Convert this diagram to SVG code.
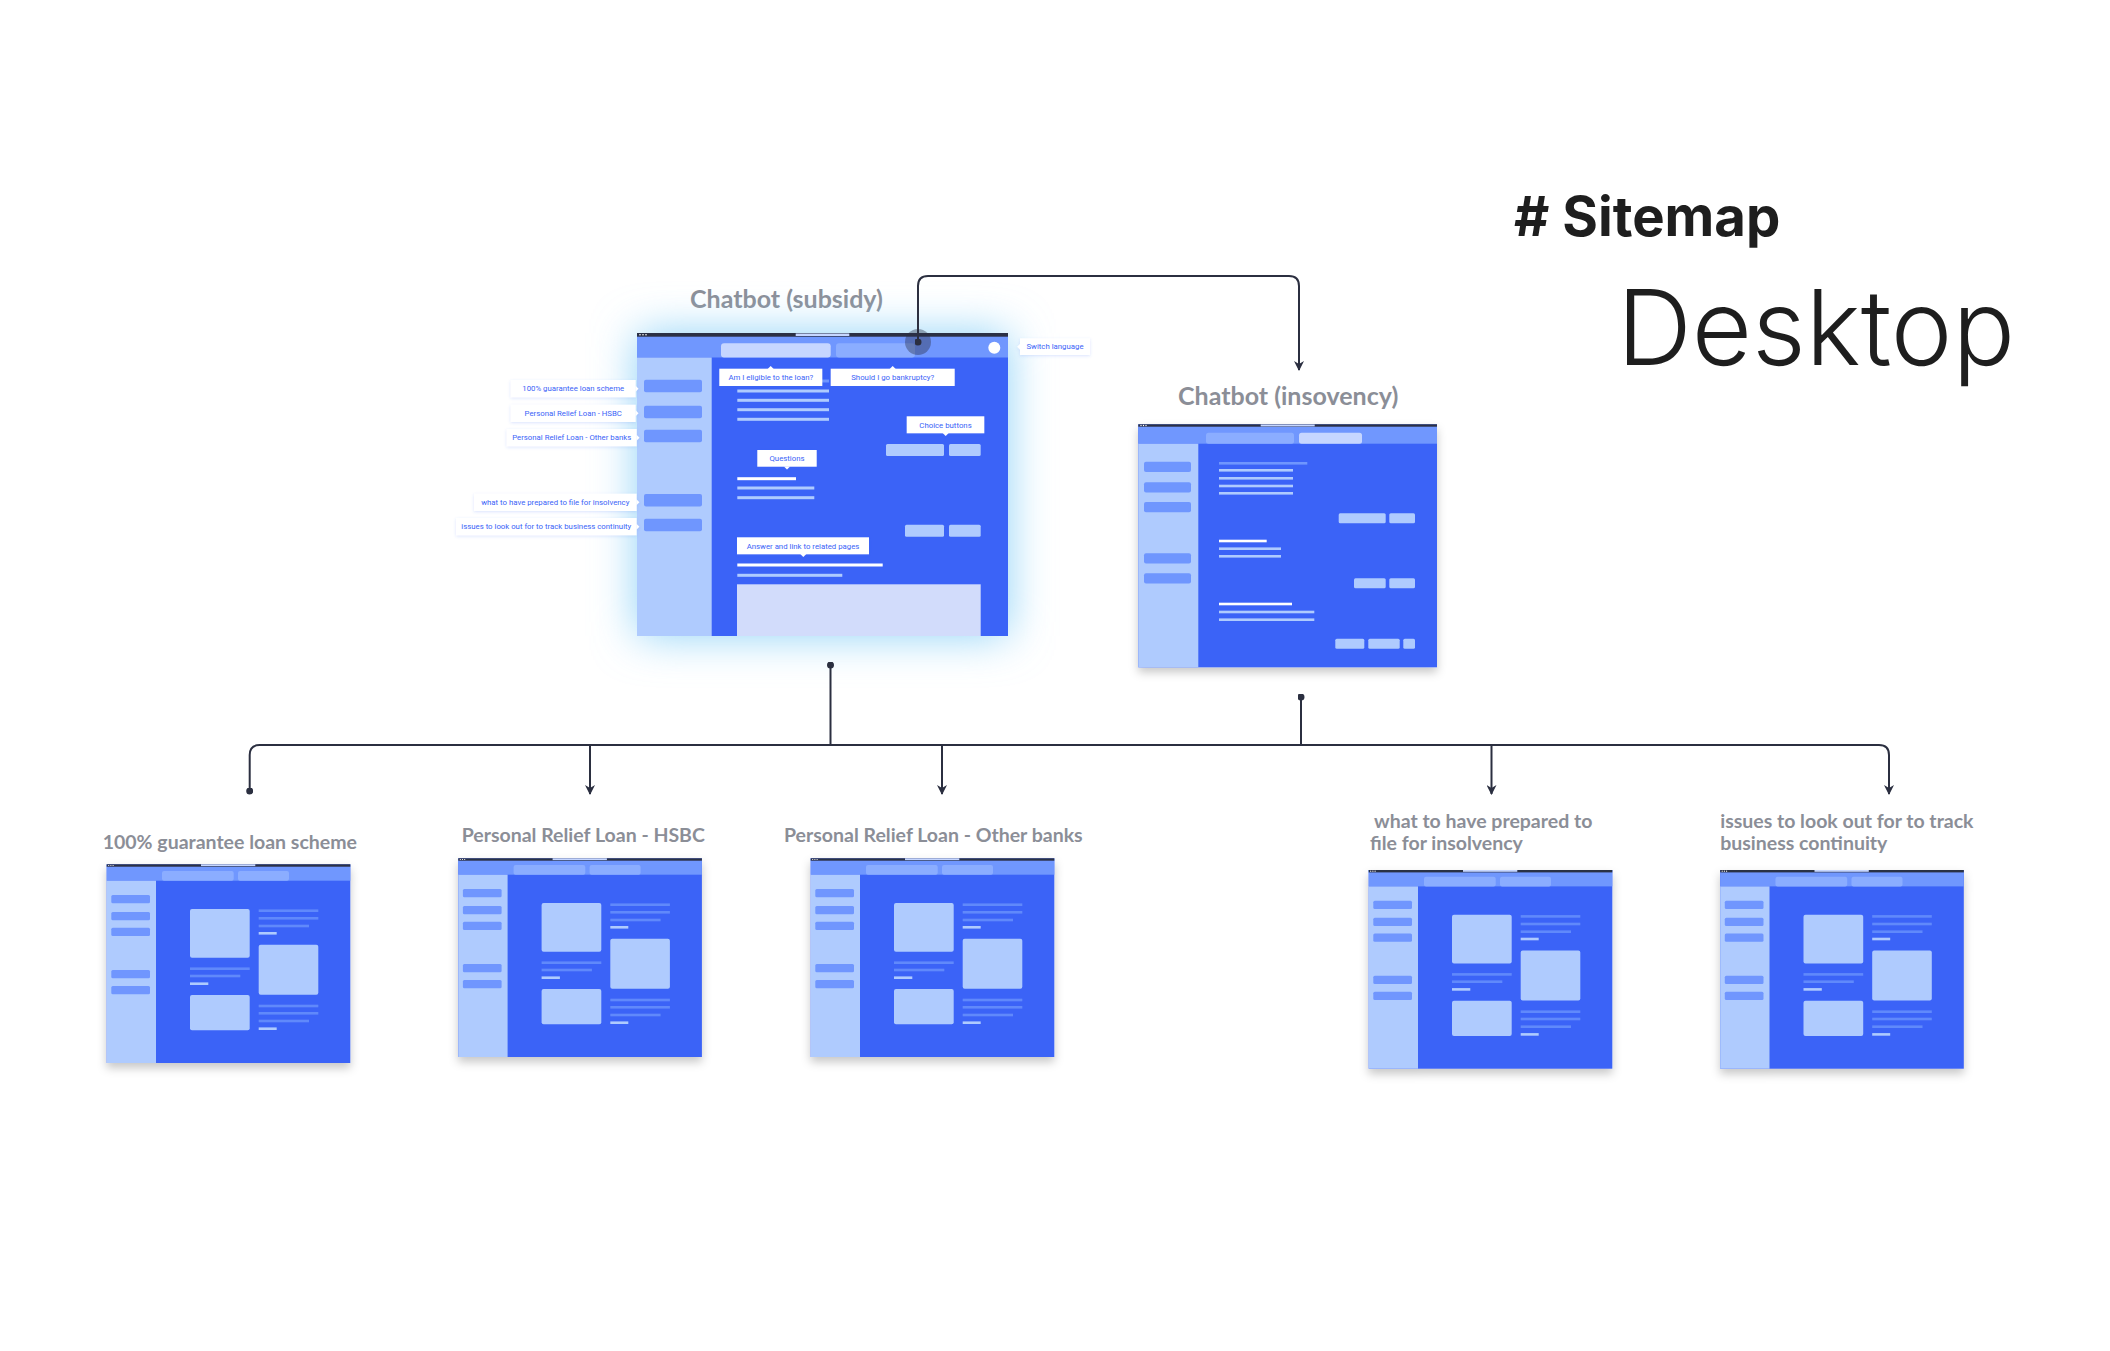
<svg xmlns="http://www.w3.org/2000/svg" xmlns:xlink="http://www.w3.org/1999/xlink" width="2110" height="1351" viewBox="0 0 2110 1351">
<style>
.ttl{font-family:Lato,"Liberation Sans",sans-serif;font-weight:700;fill:#8b8e97}
.sub{font-size:19.5px}
.lbl{font-family:Roboto,"Liberation Sans",sans-serif;font-size:7.8px;fill:#3b63f7;text-anchor:middle}
.tag{fill:#ffffff}
.main{fill:#3b63f7}
.hdr{fill:#7097fe}
.bar{fill:#2b3045}
.tabL{fill:#c6d6ff}
.tabM{fill:#8badff}
.side{fill:#afcbfe}
.sbtn{fill:#6f96fe}
.lt{fill:#afcbfe}
.mid{fill:#6189fb}
.wht{fill:#ffffff}
.con{fill:none;stroke:#2b2f40;stroke-width:2}
</style>
<defs>
<filter id="glow" x="-40%" y="-40%" width="180%" height="180%">
<feGaussianBlur stdDeviation="22"/>
</filter>
<filter id="shadow" x="-20%" y="-20%" width="140%" height="150%">
<feDropShadow dx="0" dy="5" stdDeviation="5" flood-color="#000000" flood-opacity="0.22"/>
</filter>
<filter id="tagsh" x="-20%" y="-40%" width="140%" height="180%">
<feDropShadow dx="0" dy="1" stdDeviation="1.5" flood-color="#3b63f7" flood-opacity="0.18"/>
</filter>
<marker id="arr" viewBox="0 0 10 10" refX="9" refY="5" markerWidth="10" markerHeight="10" markerUnits="userSpaceOnUse" orient="auto">
<path d="M0,0 L10,5 L0,10 L3,5 z" fill="#2b2f40"/>
</marker>
<marker id="dot" viewBox="0 0 8 8" refX="4" refY="4" markerWidth="7" markerHeight="7" markerUnits="userSpaceOnUse" orient="auto">
<circle cx="4" cy="4" r="4" fill="#2b2f40"/>
</marker>
<g id="page">
<rect width="243.6" height="198.7" class="main"/>
<rect width="243.6" height="16.4" class="hdr"/>
<rect width="243.6" height="2.4" class="bar"/>
<rect x="94.3" width="54.3" height="1.8" class="tabL"/>
<circle cx="2" cy="1.2" r="0.6" fill="#fff"/><circle cx="4.2" cy="1.2" r="0.6" fill="#fff"/><circle cx="6.4" cy="1.2" r="0.6" fill="#fff"/>
<rect x="55.3" y="6.7" width="71.7" height="9.7" rx="2" class="tabM"/>
<rect x="131.3" y="6.7" width="51" height="9.7" rx="2" class="tabM"/>
<rect y="16.4" width="49.3" height="182.3" class="side"/>
<rect x="4.6" y="30.7" width="38.7" height="8.3" rx="1.5" class="sbtn"/>
<rect x="4.6" y="47.7" width="38.7" height="8.3" rx="1.5" class="sbtn"/>
<rect x="4.6" y="63.4" width="38.7" height="8.3" rx="1.5" class="sbtn"/>
<rect x="4.6" y="105.7" width="38.7" height="8.3" rx="1.5" class="sbtn"/>
<rect x="4.6" y="121.7" width="38.7" height="8.3" rx="1.5" class="sbtn"/>
<rect x="83.3" y="44.7" width="59.7" height="48.7" rx="2" class="lt"/>
<rect x="152" y="80.4" width="59.6" height="50" rx="2" class="lt"/>
<rect x="83.3" y="130.7" width="59.7" height="35.3" rx="2" class="lt"/>
<rect x="152" y="45.1" width="59.6" height="2.6" class="mid"/>
<rect x="152" y="52.7" width="59.6" height="2.6" class="mid"/>
<rect x="152" y="60.4" width="50.3" height="2.6" class="mid"/>
<rect x="152" y="67.7" width="18" height="2.6" class="lt"/>
<rect x="83.3" y="103.1" width="59.7" height="2.6" class="mid"/>
<rect x="83.3" y="110.4" width="50.3" height="2.6" class="mid"/>
<rect x="83.3" y="118.1" width="18.3" height="2.6" class="lt"/>
<rect x="152" y="140.4" width="59.6" height="2.6" class="mid"/>
<rect x="152" y="147.7" width="59.6" height="2.6" class="mid"/>
<rect x="152" y="155.4" width="50.3" height="2.6" class="mid"/>
<rect x="152" y="163.1" width="18" height="2.6" class="lt"/>
</g>
</defs>
<rect width="2110" height="1351" fill="#ffffff"/>

<g id="heading">
<text x="1514" y="236" font-family="Inter,'Liberation Sans',sans-serif" font-weight="700" font-size="54.5" fill="#1e1e1e"># Sitemap</text>
<text x="1617" y="365" font-family="Inter,'Liberation Sans',sans-serif" font-weight="300" font-size="104" fill="#1e1e1e">Desktop</text>
</g>

<g id="chatbot-subsidy">
<text class="ttl" x="690" y="308" font-size="25">Chatbot (subsidy)</text>
<rect x="637" y="333" width="371" height="303" fill="#8fd2f8" filter="url(#glow)"/>
<rect x="637" y="333" width="371" height="303" class="main"/>
<rect x="637" y="333" width="371" height="24.5" class="hdr"/>
<rect x="637" y="333" width="371" height="3.7" class="bar"/>
<rect x="795.7" y="333.5" width="53.6" height="2.5" class="tabL"/>
<circle cx="640" cy="334.8" r="0.8" fill="#fff"/><circle cx="643" cy="334.8" r="0.8" fill="#fff"/><circle cx="646" cy="334.8" r="0.8" fill="#fff"/>
<rect x="721" y="343.3" width="109.7" height="14.2" rx="3" class="tabL"/>
<rect x="836" y="343.3" width="79" height="14.2" rx="3" class="tabM"/>
<circle cx="994.3" cy="347.7" r="6" fill="#ffffff"/>
<rect x="637" y="357.5" width="74.7" height="278.5" class="side"/>
<rect x="644" y="379.7" width="58" height="12.6" rx="2" class="sbtn"/>
<rect x="644" y="405.7" width="58" height="12.6" rx="2" class="sbtn"/>
<rect x="644" y="429.7" width="58" height="12.6" rx="2" class="sbtn"/>
<rect x="644" y="494" width="58" height="12.6" rx="2" class="sbtn"/>
<rect x="644" y="518.7" width="58" height="12.6" rx="2" class="sbtn"/>
<rect x="737.3" y="379.5" width="91.7" height="3" class="sbtn"/>
<rect x="737.3" y="389.5" width="91.7" height="3" class="lt"/>
<rect x="737.3" y="398.8" width="91.7" height="3" class="lt"/>
<rect x="737.3" y="408.2" width="91.7" height="3" class="lt"/>
<rect x="737.3" y="417.8" width="91.7" height="3" class="lt"/>
<rect x="886" y="444" width="58" height="12" rx="1.5" class="lt"/>
<rect x="949" y="444" width="31.7" height="12" rx="1.5" class="lt"/>
<rect x="737.3" y="477.2" width="58.7" height="3" class="wht"/>
<rect x="737.3" y="486.5" width="77" height="3" class="lt"/>
<rect x="737.3" y="496.2" width="77" height="3" class="lt"/>
<rect x="905" y="524.7" width="39" height="12" rx="1.5" class="lt"/>
<rect x="949" y="524.7" width="31.7" height="12" rx="1.5" class="lt"/>
<rect x="737.3" y="563.5" width="145.4" height="3" class="wht"/>
<rect x="737.3" y="573.8" width="105" height="3" class="lt"/>
<rect x="737" y="584.3" width="243.7" height="51.7" fill="#d2dcfb"/>
<g filter="url(#tagsh)">
<rect x="719.3" y="368.7" width="103" height="17.3" class="tag"/><path d="M767.7,368.9 L770.7,365.9 L773.7,368.9 z" class="tag"/>
<rect x="830.7" y="368.7" width="124" height="17.3" class="tag"/><path d="M889.7,368.9 L892.7,365.9 L895.7,368.9 z" class="tag"/>
<rect x="906.7" y="416.3" width="77.6" height="17" class="tag"/><path d="M942.7,433.1 L945.7,436.1 L948.7,433.1 z" class="tag"/>
<rect x="757.3" y="450" width="59.4" height="16.7" class="tag"/><path d="M784,466.5 L787,469.5 L790,466.5 z" class="tag"/>
<rect x="737" y="537.3" width="132" height="17" class="tag"/><path d="M800.3,554.1 L803.3,557.1 L806.3,554.1 z" class="tag"/>
<rect x="1020" y="338.3" width="70" height="16.7" class="tag"/><path d="M1020.2,343.7 L1017.2,346.7 L1020.2,349.7 z" class="tag"/>
<rect x="510.7" y="380" width="125" height="17.3" class="tag"/><path d="M635.5,385.7 L638.5,388.7 L635.5,391.7 z" class="tag"/>
<rect x="510.7" y="404.7" width="125" height="17.3" class="tag"/><path d="M635.5,410.3 L638.5,413.3 L635.5,416.3 z" class="tag"/>
<rect x="506.7" y="429" width="130" height="17.3" class="tag"/><path d="M636.5,434.7 L639.5,437.7 L636.5,440.7 z" class="tag"/>
<rect x="474" y="493.7" width="162.6" height="17.3" class="tag"/><path d="M636.4,499.3 L639.4,502.3 L636.4,505.3 z" class="tag"/>
<rect x="456" y="518" width="180.6" height="17.3" class="tag"/><path d="M636.4,523.7 L639.4,526.7 L636.4,529.7 z" class="tag"/>
</g>
<text class="lbl" x="770.8" y="380.1">Am I eligible to the loan?</text>
<text class="lbl" x="892.7" y="380.1">Should I go bankruptcy?</text>
<text class="lbl" x="945.5" y="427.6">Choice buttons</text>
<text class="lbl" x="787" y="461.1">Questions</text>
<text class="lbl" x="803" y="548.6">Answer and link to related pages</text>
<text class="lbl" x="1055" y="349.4">Switch language</text>
<text class="lbl" x="573.2" y="391.4">100% guarantee loan scheme</text>
<text class="lbl" x="573.2" y="416">Personal Relief Loan - HSBC</text>
<text class="lbl" x="571.7" y="440.4">Personal Relief Loan - Other banks</text>
<text class="lbl" x="555.3" y="505">what to have prepared to file for insolvency</text>
<text class="lbl" x="546.3" y="529.4">issues to look out for to track business continuity</text>
</g>

<g id="chatbot-insolvency">
<text class="ttl" x="1178" y="405" font-size="25">Chatbot (insovency)</text>
<rect x="1138.3" y="424.3" width="298.7" height="243" class="main" filter="url(#shadow)"/>
<rect x="1138.3" y="424.3" width="298.7" height="19.4" class="hdr"/>
<rect x="1138.3" y="424.3" width="298.7" height="2.4" class="bar"/>
<rect x="1260.7" y="424.5" width="54" height="1.9" class="tabL"/>
<circle cx="1141" cy="425.5" r="0.7" fill="#fff"/><circle cx="1143.5" cy="425.5" r="0.7" fill="#fff"/><circle cx="1146" cy="425.5" r="0.7" fill="#fff"/>
<rect x="1206" y="432.7" width="88" height="11" rx="2.5" class="tabM"/>
<rect x="1299" y="432.7" width="63" height="11" rx="2.5" class="tabL"/>
<rect x="1138.3" y="443.7" width="60" height="223.6" class="side"/>
<rect x="1144" y="461.7" width="47" height="10.3" rx="2" class="sbtn"/>
<rect x="1144" y="482.3" width="47" height="10.3" rx="2" class="sbtn"/>
<rect x="1144" y="502" width="47" height="10.3" rx="2" class="sbtn"/>
<rect x="1144" y="553.3" width="47" height="10.3" rx="2" class="sbtn"/>
<rect x="1144" y="573.3" width="47" height="10.3" rx="2" class="sbtn"/>
<rect x="1219" y="462" width="88.3" height="2.6" class="sbtn"/>
<rect x="1219" y="469" width="74" height="2.6" class="lt"/>
<rect x="1219" y="477" width="74" height="2.6" class="lt"/>
<rect x="1219" y="484.7" width="74" height="2.6" class="lt"/>
<rect x="1219" y="492" width="74" height="2.6" class="lt"/>
<rect x="1338.7" y="513.3" width="47" height="10" rx="1.5" class="lt"/>
<rect x="1389.3" y="513.3" width="25.7" height="10" rx="1.5" class="lt"/>
<rect x="1219" y="539.7" width="47.7" height="2.6" class="wht"/>
<rect x="1219" y="547.4" width="62" height="2.6" class="lt"/>
<rect x="1219" y="555" width="62" height="2.6" class="lt"/>
<rect x="1354" y="578.3" width="31.7" height="10" rx="1.5" class="lt"/>
<rect x="1389.3" y="578.3" width="25.7" height="10" rx="1.5" class="lt"/>
<rect x="1219" y="602.7" width="73" height="2.6" class="wht"/>
<rect x="1219" y="610.7" width="95.3" height="2.6" class="lt"/>
<rect x="1219" y="618.4" width="95.3" height="2.6" class="lt"/>
<rect x="1335.3" y="638.7" width="29" height="10" rx="1.5" class="lt"/>
<rect x="1368.3" y="638.7" width="31.4" height="10" rx="1.5" class="lt"/>
<rect x="1403.3" y="638.7" width="11.7" height="10" rx="1.5" class="lt"/>
</g>

<g id="page-guarantee">
<text class="ttl sub" x="102.7" y="849.3">100% guarantee loan scheme</text>
<use xlink:href="#page" href="#page" x="106.7" y="864.3" filter="url(#shadow)"/>
</g>
<g id="page-hsbc">
<text class="ttl sub" x="461.7" y="841.7">Personal Relief Loan - HSBC</text>
<use xlink:href="#page" href="#page" x="458.3" y="858.3" filter="url(#shadow)"/>
</g>
<g id="page-other-banks">
<text class="ttl sub" x="784" y="841.7">Personal Relief Loan - Other banks</text>
<use xlink:href="#page" href="#page" x="810.7" y="858.3" filter="url(#shadow)"/>
</g>
<g id="page-insolvency-prep">
<text class="ttl sub"><tspan x="1374" y="828.3">what to have prepared to</tspan><tspan x="1370" y="850">file for insolvency</tspan></text>
<use xlink:href="#page" href="#page" x="1368.7" y="870" filter="url(#shadow)"/>
</g>
<g id="page-business-continuity">
<text class="ttl sub"><tspan x="1720.2" y="828.3">issues to look out for to track</tspan><tspan x="1720.2" y="850">business continuity</tspan></text>
<use xlink:href="#page" href="#page" x="1720.2" y="870" filter="url(#shadow)"/>
</g>

<g id="connectors">
<circle cx="918" cy="342" r="13" fill="#2b3045" opacity="0.4"/>
<path class="con" d="M918,342 V286 Q918,276 928,276 H1289 Q1299,276 1299,286 V370" marker-start="url(#dot)" marker-end="url(#arr)"/>
<path class="con" d="M830.5,665 V745" marker-start="url(#dot)"/>
<path class="con" d="M1301,697 V745" marker-start="url(#dot)"/>
<path class="con" d="M249.7,791 V755 Q249.7,745 259.7,745 H1879 Q1889,745 1889,755 V794" marker-start="url(#dot)" marker-end="url(#arr)"/>
<path class="con" d="M590,745 V794" marker-end="url(#arr)"/>
<path class="con" d="M942,745 V794" marker-end="url(#arr)"/>
<path class="con" d="M1491.5,745 V794" marker-end="url(#arr)"/>
</g>
</svg>
